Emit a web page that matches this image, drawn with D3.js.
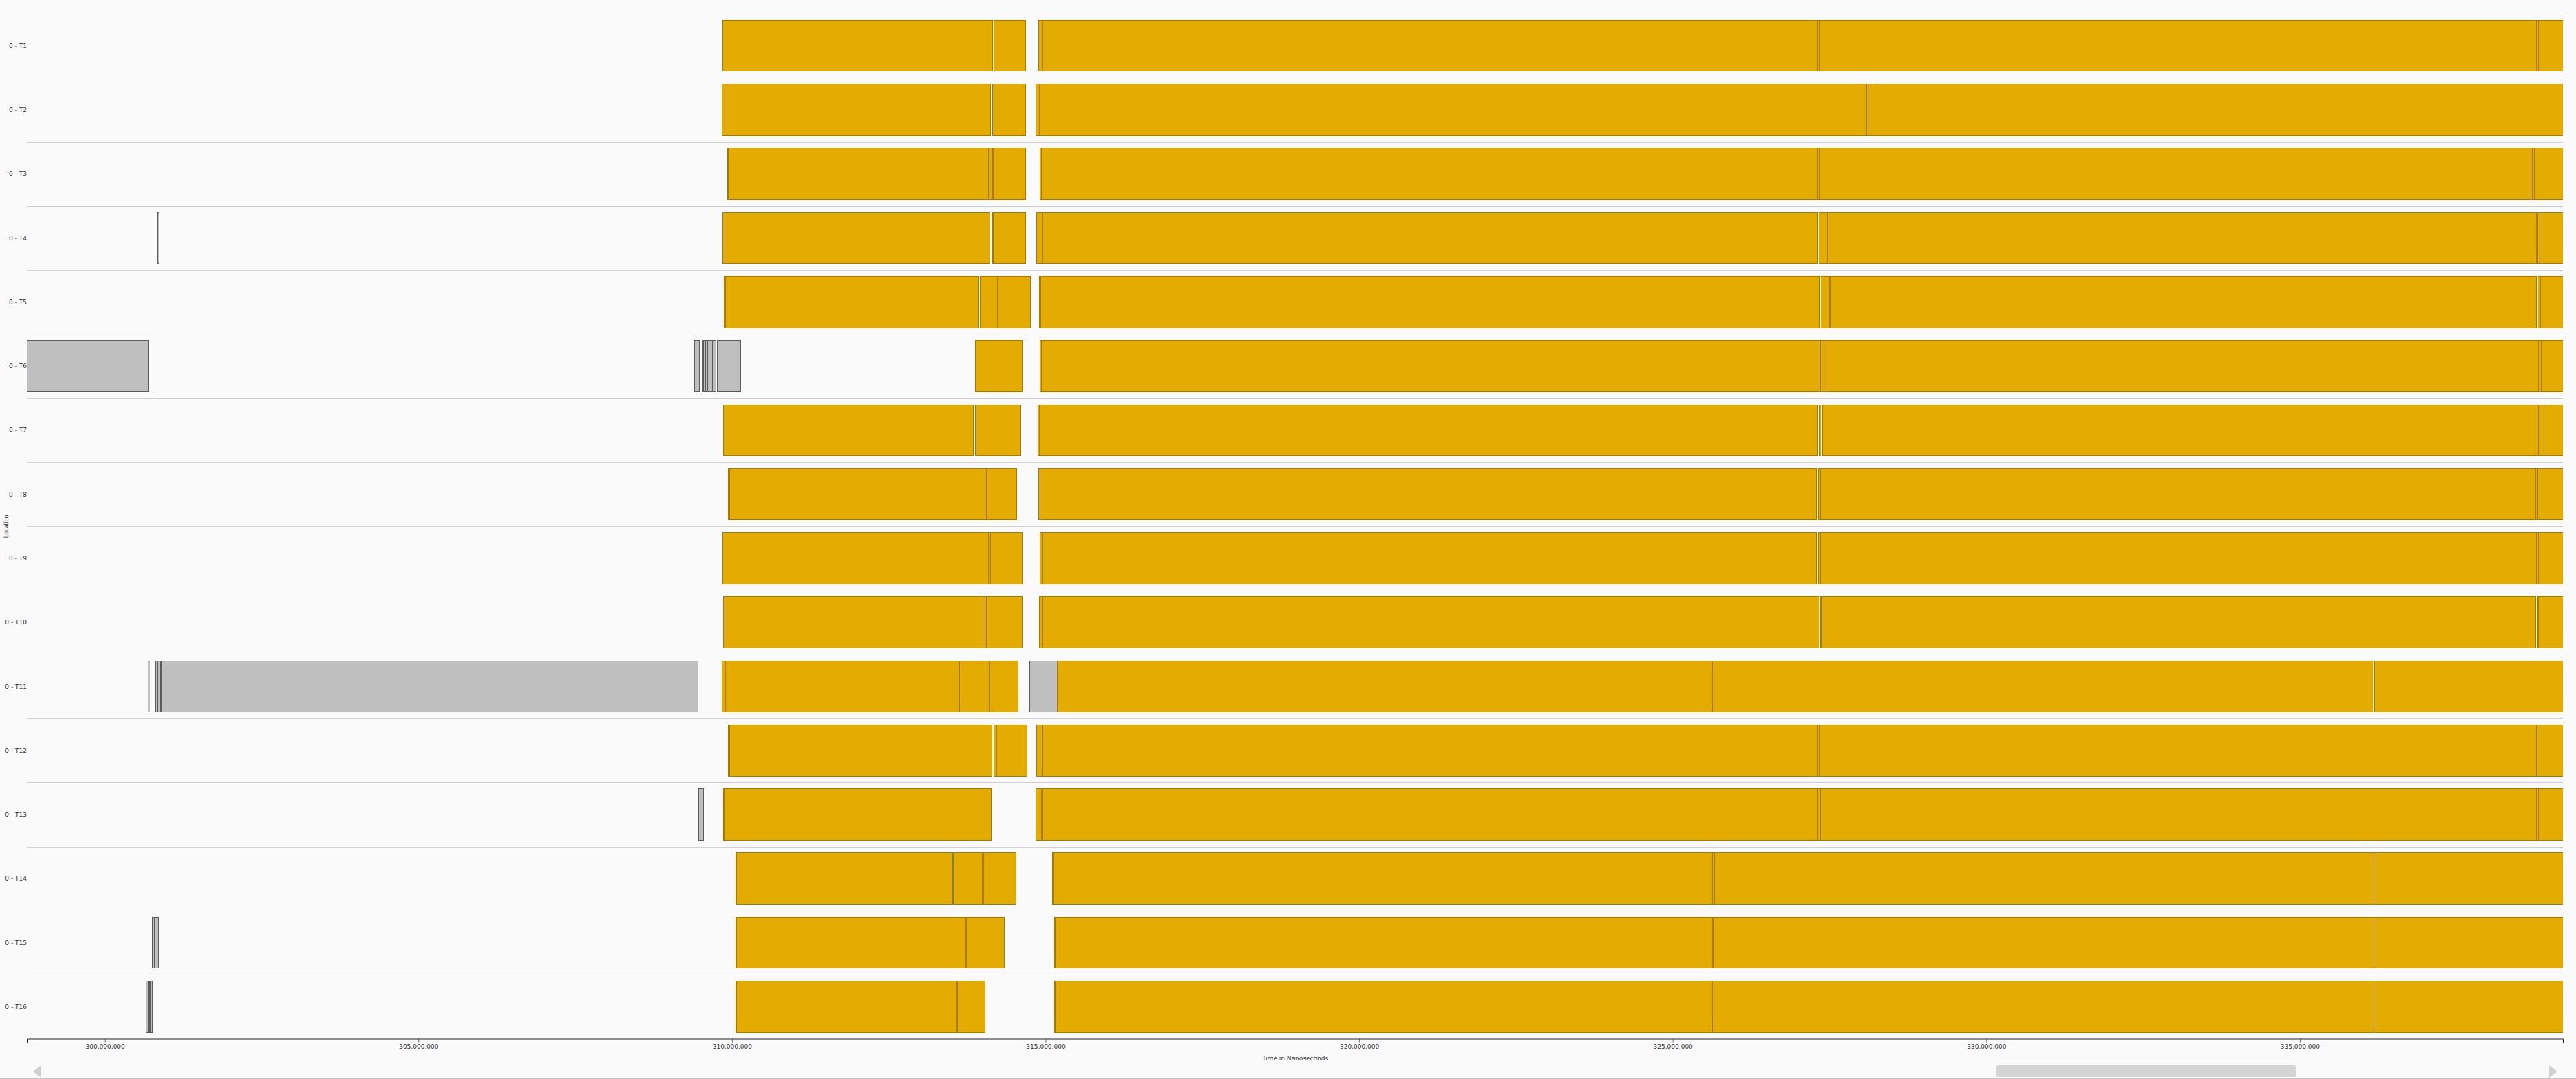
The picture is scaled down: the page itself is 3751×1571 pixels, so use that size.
<!DOCTYPE html>
<html>
<head>
<meta charset="utf-8">
<script src="https://cdn.jsdelivr.net/npm/d3@7"></script>
<style>
  body { margin: 0; background: #fafafa; }
  svg { display: block; font-family: "DejaVu Sans", sans-serif; }
</style>
</head>
<body>
<svg id="chart" width="3751" height="1571"></svg>
<script>
// Threads shown on the y axis
var threads = ["0 - T1", "0 - T2", "0 - T3", "0 - T4", "0 - T5", "0 - T6", "0 - T7", "0 - T8",
               "0 - T9", "0 - T10", "0 - T11", "0 - T12", "0 - T13", "0 - T14", "0 - T15", "0 - T16"];

// x axis ticks (ns)
var tickVals = [300e6, 305e6, 310e6, 315e6, 320e6, 325e6, 330e6, 335e6];
var viewStart = 298.766e6, viewEnd = 339.195e6;

// intervals per thread: [start ns, end ns, state]  W = working (gold), I = idle (grey)
var t1 = [[309.853e6,314.159e6,"W"],[314.183e6,314.684e6,"W"],[314.891e6,314.953e6,"W"],[314.953e6,327.303e6,"W"],
          [327.303e6,327.336e6,"W"],[327.336e6,338.768e6,"W"],[338.768e6,338.801e6,"W"],[338.801e6,339.3e6,"W"]];
var t2 = [[309.841e6,309.916e6,"W"],[309.916e6,314.124e6,"W"],[314.156e6,314.183e6,"W"],[314.183e6,314.684e6,"W"],
          [314.844e6,314.898e6,"W"],[314.898e6,328.084e6,"W"],[328.097e6,328.132e6,"W"],[328.132e6,339.3e6,"W"]];
var t3 = [[309.928e6,309.946e6,"W"],[309.946e6,314.089e6,"W"],[314.089e6,314.109e6,"W"],[314.109e6,314.159e6,"W"],
          [314.171e6,314.684e6,"W"],[314.910e6,314.929e6,"W"],[314.929e6,327.303e6,"W"],[327.303e6,327.336e6,"W"],
          [327.336e6,338.681e6,"W"],[338.681e6,338.703e6,"W"],[338.703e6,338.739e6,"W"],[338.739e6,339.3e6,"W"]];
var t4 = [[300.839e6,300.860e6,"I"],
          [309.853e6,309.886e6,"W"],[309.886e6,314.116e6,"W"],[314.156e6,314.170e6,"W"],[314.170e6,314.684e6,"W"],
          [314.856e6,314.953e6,"W"],[314.953e6,327.311e6,"W"],[327.328e6,327.471e6,"W"],[327.471e6,338.768e6,"W"],
          [338.768e6,338.787e6,"W"],[338.787e6,338.859e6,"W"],[338.859e6,339.3e6,"W"]];
var t5 = [[309.873e6,309.892e6,"W"],[309.892e6,313.928e6,"W"],[313.960e6,314.233e6,"W"],[314.233e6,314.761e6,"W"],
          [314.898e6,314.918e6,"W"],[314.918e6,327.343e6,"W"],[327.361e6,327.489e6,"W"],[327.489e6,327.511e6,"W"],
          [327.511e6,338.776e6,"W"],[338.793e6,338.837e6,"W"],[338.837e6,339.3e6,"W"]];
var t6 = [[298.0e6,300.698e6,"I"],[309.403e6,309.482e6,"I"],[309.525e6,309.552e6,"I"],[309.552e6,309.580e6,"I"],
          [309.580e6,309.607e6,"I"],[309.607e6,309.634e6,"I"],[309.634e6,309.662e6,"I"],[309.662e6,309.689e6,"I"],
          [309.689e6,309.716e6,"I"],[309.716e6,309.744e6,"I"],[309.763e6,310.139e6,"I"],
          [313.882e6,314.629e6,"W"],[314.910e6,314.929e6,"W"],[314.929e6,327.325e6,"W"],[327.325e6,327.347e6,"W"],
          [327.347e6,327.427e6,"W"],[327.427e6,338.801e6,"W"],[338.801e6,338.845e6,"W"],[338.845e6,339.3e6,"W"]];
var t7 = [[309.861e6,313.850e6,"W"],[313.882e6,313.900e6,"W"],[313.900e6,314.597e6,"W"],[314.878e6,314.896e6,"W"],
          [314.896e6,327.311e6,"W"],[327.336e6,327.358e6,"W"],[327.380e6,338.790e6,"W"],[338.790e6,338.808e6,"W"],
          [338.808e6,338.892e6,"W"],[338.892e6,339.3e6,"W"]];
var t8 = [[309.940e6,309.959e6,"W"],[309.959e6,314.034e6,"W"],[314.034e6,314.062e6,"W"],[314.062e6,314.542e6,"W"],
          [314.891e6,314.909e6,"W"],[314.909e6,327.300e6,"W"],[327.314e6,327.347e6,"W"],[327.347e6,338.757e6,"W"],
          [338.757e6,338.779e6,"W"],[338.779e6,338.798e6,"W"],[338.798e6,339.3e6,"W"]];
var t9 = [[309.853e6,314.089e6,"W"],[314.089e6,314.128e6,"W"],[314.128e6,314.629e6,"W"],[314.910e6,314.953e6,"W"],
          [314.953e6,327.300e6,"W"],[327.314e6,327.347e6,"W"],[327.347e6,338.768e6,"W"],[338.768e6,338.801e6,"W"],
          [338.801e6,339.3e6,"W"]];
var t10 = [[309.861e6,309.890e6,"W"],[309.890e6,314.007e6,"W"],[314.007e6,314.031e6,"W"],[314.031e6,314.057e6,"W"],
           [314.057e6,314.629e6,"W"],[314.898e6,314.953e6,"W"],[314.953e6,327.333e6,"W"],[327.350e6,327.376e6,"W"],
           [327.376e6,327.401e6,"W"],[327.401e6,338.765e6,"W"],[338.779e6,338.801e6,"W"],[338.801e6,339.3e6,"W"]];
var t11 = [[300.691e6,300.719e6,"I"],[300.810e6,300.839e6,"I"],[300.839e6,300.867e6,"I"],[300.867e6,300.888e6,"I"],
           [300.888e6,300.909e6,"I"],[300.909e6,309.462e6,"I"],
           [309.841e6,309.896e6,"W"],[309.896e6,313.616e6,"W"],[313.616e6,313.631e6,"W"],[313.631e6,314.081e6,"W"],
           [314.081e6,314.097e6,"W"],[314.097e6,314.562e6,"W"],
           [314.746e6,315.187e6,"I"],
           [315.187e6,315.202e6,"W"],[315.202e6,325.628e6,"W"],[325.628e6,325.649e6,"W"],[325.649e6,336.170e6,"W"],
           [336.187e6,339.3e6,"W"]];
var t12 = [[309.940e6,309.959e6,"W"],[309.959e6,314.147e6,"W"],[314.179e6,314.221e6,"W"],[314.221e6,314.707e6,"W"],
           [314.856e6,314.940e6,"W"],[314.940e6,314.957e6,"W"],[314.957e6,327.303e6,"W"],[327.303e6,327.336e6,"W"],
           [327.336e6,338.768e6,"W"],[338.768e6,338.790e6,"W"],[338.790e6,339.3e6,"W"]];
var t13 = [[309.470e6,309.548e6,"I"],
           [309.861e6,309.876e6,"W"],[309.876e6,314.136e6,"W"],[314.844e6,314.938e6,"W"],[314.938e6,314.957e6,"W"],
           [314.957e6,327.303e6,"W"],[327.303e6,327.347e6,"W"],[327.347e6,338.768e6,"W"],[338.768e6,338.801e6,"W"],
           [338.801e6,339.3e6,"W"]];
var t14 = [[310.060e6,310.077e6,"W"],[310.077e6,313.514e6,"W"],[313.529e6,313.995e6,"W"],[313.995e6,314.010e6,"W"],
           [314.010e6,314.530e6,"W"],[315.110e6,315.126e6,"W"],[315.126e6,325.635e6,"W"],[325.649e6,325.671e6,"W"],
           [325.671e6,336.162e6,"W"],[336.162e6,336.195e6,"W"],[336.195e6,339.3e6,"W"]];
var t15 = [[300.769e6,300.790e6,"I"],[300.790e6,300.853e6,"I"],
           [310.060e6,310.077e6,"W"],[310.077e6,313.718e6,"W"],[313.718e6,313.741e6,"W"],[313.741e6,314.343e6,"W"],
           [315.141e6,315.157e6,"W"],[315.157e6,325.628e6,"W"],[325.628e6,325.660e6,"W"],[325.660e6,336.162e6,"W"],
           [336.162e6,336.195e6,"W"],[336.195e6,339.3e6,"W"]];
var t16 = [[300.653e6,300.704e6,"I"],[300.704e6,300.715e6,"I"],[300.715e6,300.726e6,"I"],[300.726e6,300.734e6,"I"],
           [300.734e6,300.767e6,"I"],
           [310.060e6,310.077e6,"W"],[310.077e6,313.581e6,"W"],[313.581e6,313.600e6,"W"],[313.600e6,314.037e6,"W"],
           [315.141e6,315.157e6,"W"],[315.157e6,325.631e6,"W"],[325.642e6,325.649e6,"W"],[325.649e6,336.162e6,"W"],
           [336.162e6,336.195e6,"W"],[336.195e6,339.3e6,"W"]];

var intervals = [t1, t2, t3, t4, t5, t6, t7, t8, t9, t10, t11, t12, t13, t14, t15, t16];

var fills = {W: "#e4ac00", I: "#bfbfbf"},
    strokes = {W: "#a47b00", I: "#5c5c5c"};

// plot box (note: "top" is reserved on window, so use other names)
var plotLeft = 40, plotRight = 3732, plotTop = 20, plotBottom = 1512.5;

var svg = d3.select("#chart");

var x = d3.scaleLinear().domain([viewStart, viewEnd]).range([plotLeft, plotRight]);
var y = d3.scaleBand().domain(threads).range([plotTop, plotBottom]).paddingInner(0.2).paddingOuter(0.1);

svg.append("defs").append("clipPath").attr("id", "plotclip")
    .append("rect").attr("x", plotLeft).attr("y", plotTop)
    .attr("width", plotRight - plotLeft).attr("height", plotBottom - plotTop);

// row separators
svg.append("g").selectAll("line")
    .data(threads)
    .enter().append("line")
        .attr("x1", plotLeft).attr("x2", plotRight)
        .attr("y1", function (d) { return Math.round(y(d) - y.step() * 0.1) + 0.5; })
        .attr("y2", function (d) { return Math.round(y(d) - y.step() * 0.1) + 0.5; })
        .attr("stroke", "#d0d0d0").attr("stroke-width", 1);

// bars
var rows = svg.append("g").attr("clip-path", "url(#plotclip)")
    .selectAll("g.row")
    .data(intervals)
    .enter().append("g")
        .attr("class", "row")
        .attr("transform", function (d, i) { return "translate(0," + y(threads[i]) + ")"; });

rows.selectAll("rect")
    .data(function (d) { return d; })
    .enter().append("rect")
        .attr("x", function (d) { return x(d[0]); })
        .attr("y", 0)
        .attr("width", function (d) { return Math.max(0, x(d[1]) - x(d[0])); })
        .attr("height", y.bandwidth())
        .attr("fill", function (d) { return fills[d[2]]; })
        .attr("stroke", function (d) { return strokes[d[2]]; })
        .attr("stroke-width", 1)
        .attr("shape-rendering", "crispEdges");

// y labels
svg.append("g").selectAll("text")
    .data(threads)
    .enter().append("text")
        .attr("x", 39)
        .attr("y", function (d) { return y(d) + y.bandwidth() / 2; })
        .attr("dy", "0.35em")
        .attr("text-anchor", "end")
        .attr("font-size", 9)
        .attr("fill", "#333")
        .text(function (d) { return d; });

svg.append("text")
    .attr("transform", "translate(12," + (plotTop + plotBottom) / 2 + ") rotate(-90)")
    .attr("text-anchor", "middle")
    .attr("font-size", 8)
    .attr("fill", "#333")
    .text("Location");

// x axis
var xAxis = svg.append("g")
    .attr("transform", "translate(0," + plotBottom + ")")
    .call(d3.axisBottom(x).tickValues(tickVals).tickFormat(d3.format(","))
          .tickSize(5).tickSizeOuter(6).tickPadding(3));
xAxis.select(".domain").attr("stroke", "#222");
xAxis.selectAll(".tick line").attr("stroke", "#666");
xAxis.selectAll(".tick text").attr("font-size", 9).attr("fill", "#333")
    .attr("font-family", "DejaVu Sans, sans-serif");

svg.append("text")
    .attr("x", (plotLeft + plotRight) / 2).attr("y", 1544)
    .attr("text-anchor", "middle")
    .attr("font-size", 9)
    .attr("fill", "#333")
    .text("Time in Nanoseconds");

// scroll bar
svg.append("path").attr("d", "M48,1560L60,1551L60,1569Z").attr("fill", "#d0d0d0");
svg.append("path").attr("d", "M3724,1560L3712,1551L3712,1569Z").attr("fill", "#d0d0d0");
svg.append("rect").attr("x", 2906).attr("y", 1551).attr("width", 438).attr("height", 17)
    .attr("rx", 4).attr("fill", "#d4d4d4");
svg.append("line").attr("x1", 0).attr("x2", 3751).attr("y1", 1570.5).attr("y2", 1570.5)
    .attr("stroke", "#c8c8c8");
</script>
</body>
</html>
